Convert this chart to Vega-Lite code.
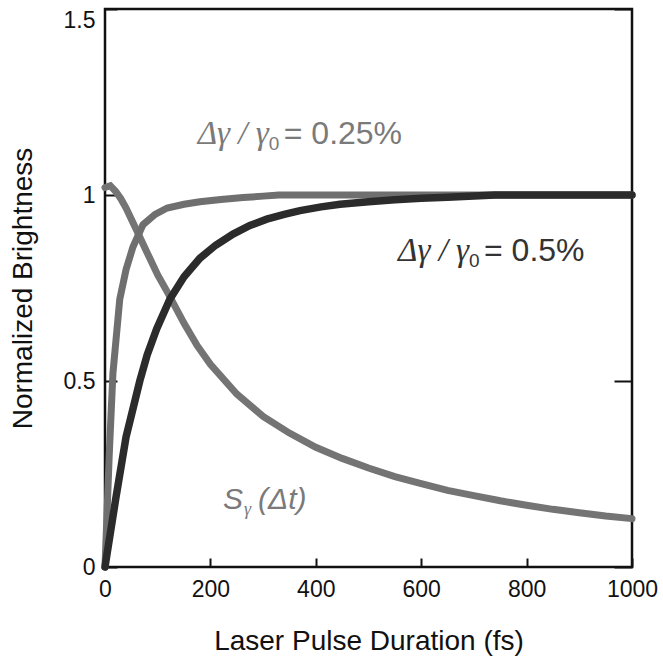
{
  "$schema": "https://vega.github.io/schema/vega-lite/v6.json",
  "width": 527,
  "height": 558,
  "autosize": {"type": "none"},
  "padding": {"left": 105, "top": 9, "right": 31, "bottom": 102},
  "background": "white",
  "config": {
    "view": {"stroke": "#111", "strokeWidth": 2.5},
    "font": "Liberation Sans"
  },
  "datasets": {
    "curves": [
      {"s": "S", "t": 0, "v": 1.02}, {"s": "S", "t": 10, "v": 1.025}, {"s": "S", "t": 20, "v": 1.01},
      {"s": "S", "t": 30, "v": 0.99}, {"s": "S", "t": 40, "v": 0.965}, {"s": "S", "t": 50, "v": 0.935},
      {"s": "S", "t": 60, "v": 0.905}, {"s": "S", "t": 80, "v": 0.845}, {"s": "S", "t": 100, "v": 0.785},
      {"s": "S", "t": 120, "v": 0.735}, {"s": "S", "t": 150, "v": 0.655}, {"s": "S", "t": 175, "v": 0.595},
      {"s": "S", "t": 200, "v": 0.545}, {"s": "S", "t": 250, "v": 0.465}, {"s": "S", "t": 300, "v": 0.405},
      {"s": "S", "t": 350, "v": 0.36}, {"s": "S", "t": 400, "v": 0.322}, {"s": "S", "t": 450, "v": 0.292},
      {"s": "S", "t": 500, "v": 0.266}, {"s": "S", "t": 550, "v": 0.243}, {"s": "S", "t": 600, "v": 0.224},
      {"s": "S", "t": 650, "v": 0.206}, {"s": "S", "t": 700, "v": 0.192}, {"s": "S", "t": 750, "v": 0.178},
      {"s": "S", "t": 800, "v": 0.166}, {"s": "S", "t": 850, "v": 0.155}, {"s": "S", "t": 900, "v": 0.146},
      {"s": "S", "t": 950, "v": 0.137}, {"s": "S", "t": 1000, "v": 0.13},
      {"s": "g25", "t": 0, "v": 0.0}, {"s": "g25", "t": 8, "v": 0.3}, {"s": "g25", "t": 15, "v": 0.52},
      {"s": "g25", "t": 28, "v": 0.72}, {"s": "g25", "t": 40, "v": 0.8}, {"s": "g25", "t": 53, "v": 0.86},
      {"s": "g25", "t": 72, "v": 0.92}, {"s": "g25", "t": 95, "v": 0.948}, {"s": "g25", "t": 118, "v": 0.965},
      {"s": "g25", "t": 150, "v": 0.975}, {"s": "g25", "t": 180, "v": 0.982}, {"s": "g25", "t": 220, "v": 0.988},
      {"s": "g25", "t": 262, "v": 0.993}, {"s": "g25", "t": 300, "v": 0.997}, {"s": "g25", "t": 330, "v": 1.0},
      {"s": "g25", "t": 1000, "v": 1.0},
      {"s": "g50", "t": 0, "v": 0.0}, {"s": "g50", "t": 20, "v": 0.18}, {"s": "g50", "t": 40, "v": 0.35},
      {"s": "g50", "t": 66, "v": 0.5}, {"s": "g50", "t": 80, "v": 0.57}, {"s": "g50", "t": 98, "v": 0.64},
      {"s": "g50", "t": 123, "v": 0.72}, {"s": "g50", "t": 150, "v": 0.78}, {"s": "g50", "t": 180, "v": 0.83},
      {"s": "g50", "t": 210, "v": 0.865}, {"s": "g50", "t": 243, "v": 0.895}, {"s": "g50", "t": 275, "v": 0.918},
      {"s": "g50", "t": 307, "v": 0.935}, {"s": "g50", "t": 340, "v": 0.948}, {"s": "g50", "t": 370, "v": 0.958},
      {"s": "g50", "t": 410, "v": 0.968}, {"s": "g50", "t": 446, "v": 0.975}, {"s": "g50", "t": 500, "v": 0.982},
      {"s": "g50", "t": 550, "v": 0.987}, {"s": "g50", "t": 600, "v": 0.991}, {"s": "g50", "t": 650, "v": 0.994},
      {"s": "g50", "t": 700, "v": 0.997}, {"s": "g50", "t": 740, "v": 1.0}, {"s": "g50", "t": 1000, "v": 1.0}
    ],
    "labels": [
      {"s": "g25", "t": 176, "v": 1.164, "main": "Δγ / γ", "sub": "0", "rest": "= 0.25%"},
      {"s": "g50", "t": 556, "v": 0.85, "main": "Δγ / γ", "sub": "0", "rest": "= 0.5%"}
    ],
    "slabel": [
      {"s": "S", "t": 224, "v": 0.18, "main": "S", "sub": "γ", "rest": "(Δt)"}
    ]
  },
  "layer": [
    {
      "data": {"name": "curves"},
      "transform": [{"filter": "datum.s === 'S'"}],
      "mark": {"type": "line", "strokeWidth": 7, "color": "#747474", "strokeCap": "round"},
      "encoding": {
        "x": {"field": "t", "type": "quantitative", "scale": {"domain": [0, 1000], "nice": false},
          "axis": {"title": "Laser Pulse Duration (fs)", "values": [0, 200, 400, 600, 800, 1000], "format": "d",
            "domain": false, "grid": false, "tickSize": -9, "tickColor": "#111", "tickWidth": 2,
            "labelFontSize": 23, "labelColor": "#111", "labelPadding": 20, "labelFlush": false,
            "titleFontSize": 28, "titleFontWeight": "normal", "titleColor": "#111", "titlePadding": 26}},
        "y": {"field": "v", "type": "quantitative", "scale": {"domain": [0, 1.5], "nice": false},
          "axis": {"title": "Normalized Brightness", "values": [0, 0.5, 1, 1.5], "format": "~g",
            "domain": false, "grid": false, "tickSize": -12, "tickColor": "#111", "tickWidth": 2,
            "labelFontSize": 23, "labelColor": "#111", "labelPadding": 22, "labelFlush": false,
            "labelBaseline": {"condition": {"test": "datum.value == 1.5", "value": "top"}, "value": "middle"},
            "titleFontSize": 28, "titleFontWeight": "normal", "titleColor": "#111", "titlePadding": 26}}
      }
    },
    {
      "data": {"name": "curves"},
      "transform": [{"filter": "datum.s === 'g25'"}],
      "mark": {"type": "line", "strokeWidth": 7, "color": "#6f6f6f", "strokeCap": "round"},
      "encoding": {
        "x": {"field": "t", "type": "quantitative"},
        "y": {"field": "v", "type": "quantitative",
          "axis": {"orient": "right", "title": null, "values": [0, 0.5, 1, 1.5], "labels": false,
            "domain": false, "grid": false, "tickSize": -18, "tickColor": "#111", "tickWidth": 2}}
      }
    },
    {
      "data": {"name": "curves"},
      "transform": [{"filter": "datum.s === 'g50'"}],
      "mark": {"type": "line", "strokeWidth": 7.5, "color": "#2b2b2b", "strokeCap": "round"},
      "encoding": {
        "x": {"field": "t", "type": "quantitative"},
        "y": {"field": "v", "type": "quantitative", "axis": null}
      }
    },
    {
      "data": {"name": "labels"},
      "mark": {"type": "text", "align": "left", "baseline": "middle", "fontSize": 33, "fontStyle": "italic", "font": "Liberation Serif"},
      "encoding": {
        "x": {"field": "t", "type": "quantitative"},
        "y": {"field": "v", "type": "quantitative", "axis": null},
        "text": {"field": "main"},
        "color": {"field": "s", "type": "nominal", "scale": {"domain": ["S", "g25", "g50"], "range": ["#7a7a7a", "#7a7a7a", "#333333"]}, "legend": null}
      }
    },
    {
      "data": {"name": "labels"},
      "mark": {"type": "text", "align": "left", "baseline": "middle", "fontSize": 19, "dx": 71, "dy": 10},
      "encoding": {
        "x": {"field": "t", "type": "quantitative"},
        "y": {"field": "v", "type": "quantitative", "axis": null},
        "text": {"field": "sub"},
        "color": {"field": "s", "type": "nominal", "scale": {"domain": ["S", "g25", "g50"], "range": ["#7a7a7a", "#7a7a7a", "#333333"]}, "legend": null}
      }
    },
    {
      "data": {"name": "labels"},
      "mark": {"type": "text", "align": "left", "baseline": "middle", "fontSize": 32, "dx": 86},
      "encoding": {
        "x": {"field": "t", "type": "quantitative"},
        "y": {"field": "v", "type": "quantitative", "axis": null},
        "text": {"field": "rest"},
        "color": {"field": "s", "type": "nominal", "scale": {"domain": ["S", "g25", "g50"], "range": ["#7a7a7a", "#7a7a7a", "#333333"]}, "legend": null}
      }
    },
    {
      "data": {"name": "slabel"},
      "mark": {"type": "text", "align": "left", "baseline": "middle", "fontSize": 30, "fontStyle": "italic", "color": "#7a7a7a"},
      "encoding": {
        "x": {"field": "t", "type": "quantitative"},
        "y": {"field": "v", "type": "quantitative", "axis": null},
        "text": {"field": "main"}
      }
    },
    {
      "data": {"name": "slabel"},
      "mark": {"type": "text", "align": "left", "baseline": "middle", "fontSize": 18, "fontStyle": "italic", "font": "Liberation Serif", "dx": 21, "dy": 10, "color": "#7a7a7a"},
      "encoding": {
        "x": {"field": "t", "type": "quantitative"},
        "y": {"field": "v", "type": "quantitative", "axis": null},
        "text": {"field": "sub"}
      }
    },
    {
      "data": {"name": "slabel"},
      "mark": {"type": "text", "align": "left", "baseline": "middle", "fontSize": 30, "fontStyle": "italic", "dx": 35, "color": "#7a7a7a"},
      "encoding": {
        "x": {"field": "t", "type": "quantitative"},
        "y": {"field": "v", "type": "quantitative", "axis": null},
        "text": {"field": "rest"}
      }
    }
  ],
  "resolve": {"axis": {"y": "independent"}}
}
